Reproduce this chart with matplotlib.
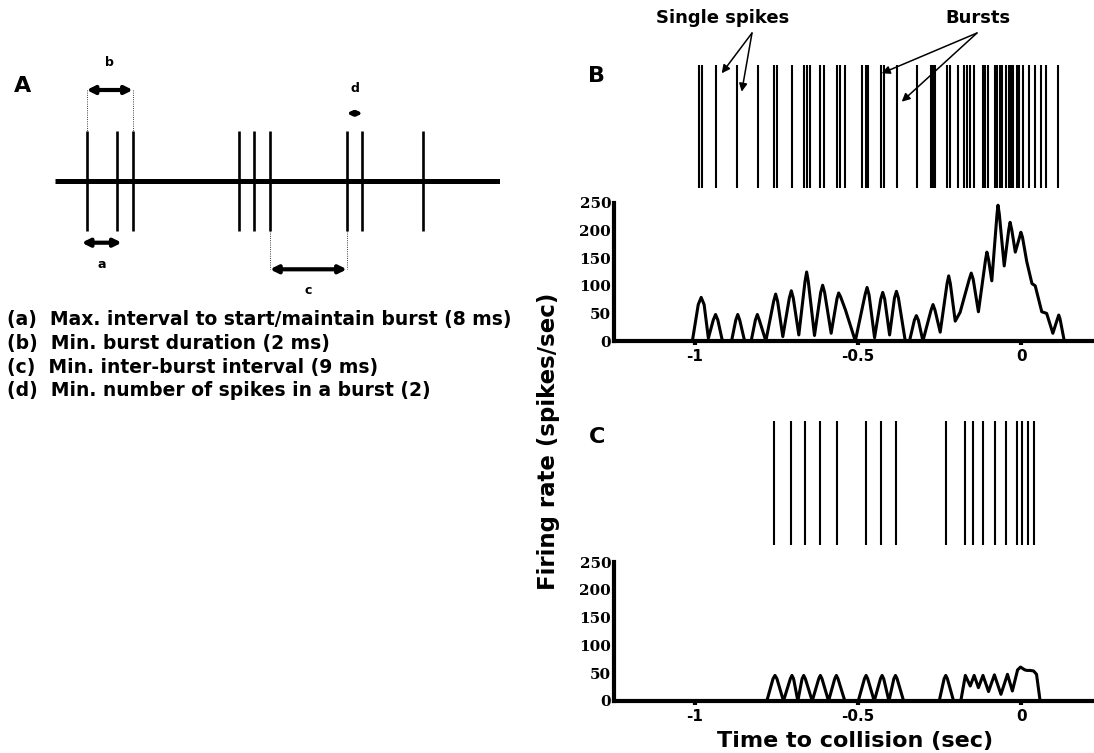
import matplotlib
matplotlib.use("Agg")
import matplotlib.pyplot as plt

plt.rcParams['font.family'] = ['DejaVu Sans']
plt.rcParams['font.weight'] = 'bold'

# ---------------- data ----------------
# Panel B spike times (s, relative to collision)
spikes_B = [-0.988, -0.979, -0.936, -0.869, -0.807, -0.758, -0.749, -0.703,
            -0.664, -0.656, -0.648, -0.615, -0.604, -0.563, -0.554, -0.541,
            -0.489, -0.474, -0.468, -0.428, -0.419, -0.381, -0.320, -0.275,
            -0.269, -0.263, -0.228, -0.219, -0.193, -0.174, -0.167, -0.156,
            -0.144, -0.118, -0.110, -0.102, -0.081, -0.073, -0.066, -0.058,
            -0.046, -0.038, -0.031, -0.024, -0.014, -0.006, 0.006, 0.023,
            0.041, 0.061, 0.076, 0.113]
# Panel B firing rate
rate_B_t = [-1.007, -0.989, -0.980, -0.971, -0.958, -0.943, -0.936, -0.929,
            -0.915, -0.887, -0.874, -0.868, -0.862, -0.847, -0.827, -0.814,
            -0.808, -0.802, -0.782, -0.758, -0.752, -0.746, -0.730, -0.710,
            -0.704, -0.698, -0.681, -0.662, -0.657, -0.652, -0.633, -0.614,
            -0.608, -0.602, -0.582, -0.564, -0.559, -0.553, -0.538, -0.508,
            -0.478, -0.472, -0.466, -0.449, -0.430, -0.424, -0.418, -0.403,
            -0.388, -0.382, -0.376, -0.355, -0.342, -0.327, -0.321, -0.315,
            -0.301, -0.276, -0.270, -0.264, -0.248, -0.227, -0.222, -0.217,
            -0.202, -0.187, -0.159, -0.153, -0.147, -0.131, -0.109, -0.105,
            -0.100, -0.090, -0.074, -0.071, -0.067, -0.052, -0.038, -0.034,
            -0.029, -0.018, -0.005, -0.001, 0.004, 0.017, 0.033, 0.043,
            0.063, 0.078, 0.097, 0.111, 0.115, 0.119, 0.132]
rate_B_v = [0, 66, 79, 66, 5, 38, 48, 38,
            0, 0, 38, 48, 38, 0, 0, 38,
            48, 38, 0, 72, 85, 72, 8, 78,
            91, 78, 11, 108, 125, 108, 10, 88,
            101, 88, 14, 77, 87, 80, 56, 0,
            84, 97, 84, 6, 76, 88, 76, 11,
            78, 90, 78, 0, 0, 38, 46, 38,
            0, 56, 66, 56, 16, 104, 118, 104,
            36, 52, 112, 123, 112, 53, 148, 161,
            148, 109, 230, 246, 230, 136, 202, 215,
            202, 161, 188, 197, 188, 144, 104, 100,
            53, 50, 14, 40, 47, 40, 0]

# Panel C spike times
spikes_C = [-0.757, -0.706, -0.663, -0.615, -0.563, -0.474, -0.428, -0.384,
            -0.229, -0.171, -0.147, -0.118, -0.080, -0.045, -0.012, 0.004,
            0.020, 0.040]
# Panel C firing rate
rate_C_t = [-0.779, -0.760, -0.754, -0.748, -0.728, -0.707, -0.702, -0.697,
            -0.684, -0.671, -0.666, -0.661, -0.640, -0.620, -0.615, -0.610,
            -0.590, -0.571, -0.566, -0.561, -0.540, -0.499, -0.480, -0.475,
            -0.470, -0.450, -0.431, -0.426, -0.421, -0.405, -0.390, -0.385,
            -0.380, -0.360, -0.251, -0.236, -0.231, -0.226, -0.207, -0.185,
            -0.171, -0.156, -0.144, -0.131, -0.117, -0.100, -0.082, -0.062,
            -0.042, -0.027, -0.011, -0.002, 0.011, 0.018, 0.027, 0.038,
            0.047, 0.058]
rate_C_v = [0, 40, 46, 40, 0, 40, 46, 40,
            0, 40, 46, 40, 0, 40, 46, 40,
            0, 40, 46, 40, 0, 0, 40, 46,
            40, 0, 40, 46, 40, 0, 40, 46,
            40, 0, 0, 40, 46, 40, 0, 0,
            46, 27, 46, 24, 46, 17, 47, 12,
            48, 18, 56, 61, 56, 55, 55, 54,
            48, 0]

x_ticks = [-1, -0.5, 0]
x_ticklabels = ['-1', '-0.5', '0']
y_ticks = [0, 50, 100, 150, 200, 250]

# Schematic (panel A): spike positions along the line (0-100 units)
schem_spikes = [7.1, 13.9, 17.5, 41.4, 44.8, 48.3, 65.6, 69.1, 82.8]
criteria = ['(a)  Max. interval to start/maintain burst (8 ms)',
            '(b)  Min. burst duration (2 ms)',
            '(c)  Min. inter-burst interval (9 ms)',
            '(d)  Min. number of spikes in a burst (2)']

# ---------------- figure ----------------
W, H = 1094, 753
fig = plt.figure(figsize=(W / 100, H / 100), dpi=100)


def px_axes(x0, y0, x1, y1):
    return fig.add_axes([x0 / W, 1 - y1 / H, (x1 - x0) / W, (y1 - y0) / H])


def fx(x):
    return x / W


def fy(y):
    return 1 - y / H


XLIM = (-1.247, 0.223)


def rate_axes(ax, t, v):
    ax.plot(t, v, color='black', lw=2.2, solid_joinstyle='round', clip_on=False, zorder=3)
    ax.set_xlim(*XLIM)
    ax.set_ylim(0, 250)
    for s in ['top', 'right']:
        ax.spines[s].set_visible(False)
    for s in ['left', 'bottom']:
        ax.spines[s].set_linewidth(3)
    ax.set_xticks(x_ticks)
    ax.set_xticklabels(x_ticklabels, fontsize=11, fontweight='bold')
    ax.set_yticks(y_ticks)
    ax.set_yticklabels([str(v) for v in y_ticks], fontsize=11, fontweight='bold',
                       family='DejaVu Serif')
    ax.tick_params(axis='x', length=3, width=3, pad=3)
    ax.tick_params(axis='y', length=0, pad=2)
    ax.patch.set_alpha(0)


def raster_axes(ax, spikes):
    ax.vlines(spikes, 0, 1, color='black', lw=1.5)
    ax.set_xlim(*XLIM)
    ax.set_ylim(0, 1)
    ax.axis('off')


# Panel B
axBr = px_axes(614, 65, 1094, 188)
raster_axes(axBr, spikes_B)
axB = px_axes(614, 203, 1094, 341)
rate_axes(axB, rate_B_t, rate_B_v)

# Panel C
axCr = px_axes(614, 421, 1094, 545)
raster_axes(axCr, spikes_C)
axC = px_axes(614, 562, 1094, 701)
rate_axes(axC, rate_C_t, rate_C_v)

# Panel A schematic (x in 0-100 units, y in pixel units)
axA = px_axes(55, 0, 500, 300)
axA.set_xlim(0, 100)
axA.set_ylim(300, 0)
axA.axis('off')
axA.plot([0, 100], [180.7, 180.7], color='black', lw=3.6, solid_capstyle='butt')
axA.vlines(schem_spikes, 130.7, 230.7, color='black', lw=1.9)


def dbl_arrow(x0, x1, y, ms=11, lw=3):
    axA.annotate('', xy=(x1, y), xytext=(x0, y),
                 arrowprops=dict(arrowstyle='<|-|>', lw=lw, color='black',
                                 mutation_scale=ms, shrinkA=0, shrinkB=0))


s = schem_spikes
dbl_arrow(s[0], s[2], 90)
axA.vlines([s[0], s[2]], 90, 130.7, color='black', lw=0.6, linestyles=':')
axA.text((s[0] + s[2]) / 2, 62.7, 'b', ha='center', va='center', fontsize=9)
dbl_arrow(s[6], s[7], 113.3, ms=6, lw=2.5)
axA.text((s[6] + s[7]) / 2, 88.3, 'd', ha='center', va='center', fontsize=9)
dbl_arrow(6.0, 15.0, 242.7)
axA.text(10.5, 265, 'a', ha='center', va='center', fontsize=9)
dbl_arrow(s[5], s[6], 269.3)
axA.vlines([s[5], s[6]], 230.7, 269.3, color='black', lw=0.6, linestyles=':')
axA.text((s[5] + s[6]) / 2, 290, 'c', ha='center', va='center', fontsize=9)

# Criteria text
for i, line in enumerate(criteria):
    fig.text(fx(7), fy(319 + i * 24), line, fontsize=13.5, fontweight='bold',
             ha='left', va='center')

# Panel letters
fig.text(fx(23), fy(85.5), 'A', fontsize=16, fontweight='bold', ha='center', va='center')
fig.text(fx(597), fy(76), 'B', fontsize=16, fontweight='bold', ha='center', va='center')
fig.text(fx(597), fy(437), 'C', fontsize=16, fontweight='bold', ha='center', va='center')

# Annotations above raster
fig.text(fx(723), fy(18), 'Single spikes', fontsize=13, fontweight='bold', ha='center', va='center')
fig.text(fx(978), fy(18), 'Bursts', fontsize=13, fontweight='bold', ha='center', va='center')
arrow_kw = dict(arrowstyle='-|>', lw=1.1, color='black', mutation_scale=12,
                shrinkA=0, shrinkB=0)
for (x0, y0), (x1, y1) in [((752, 33), (721.7, 73.3)), ((752, 33), (741.7, 91.7)),
                           ((977, 33), (881.7, 73.3)), ((977, 33), (901.7, 101.7))]:
    fig.add_artist(matplotlib.patches.FancyArrowPatch(
        (fx(x0), fy(y0)), (fx(x1), fy(y1)), transform=fig.transFigure, **arrow_kw))

# Axis labels
fig.text(fx(548), fy(441), 'Firing rate (spikes/sec)', fontsize=16.5, fontweight='bold',
         rotation=90, ha='center', va='center')
fig.text(fx(855), fy(741), 'Time to collision (sec)', fontsize=16, fontweight='bold',
         ha='center', va='center')

fig.savefig('out.png', dpi=100)
